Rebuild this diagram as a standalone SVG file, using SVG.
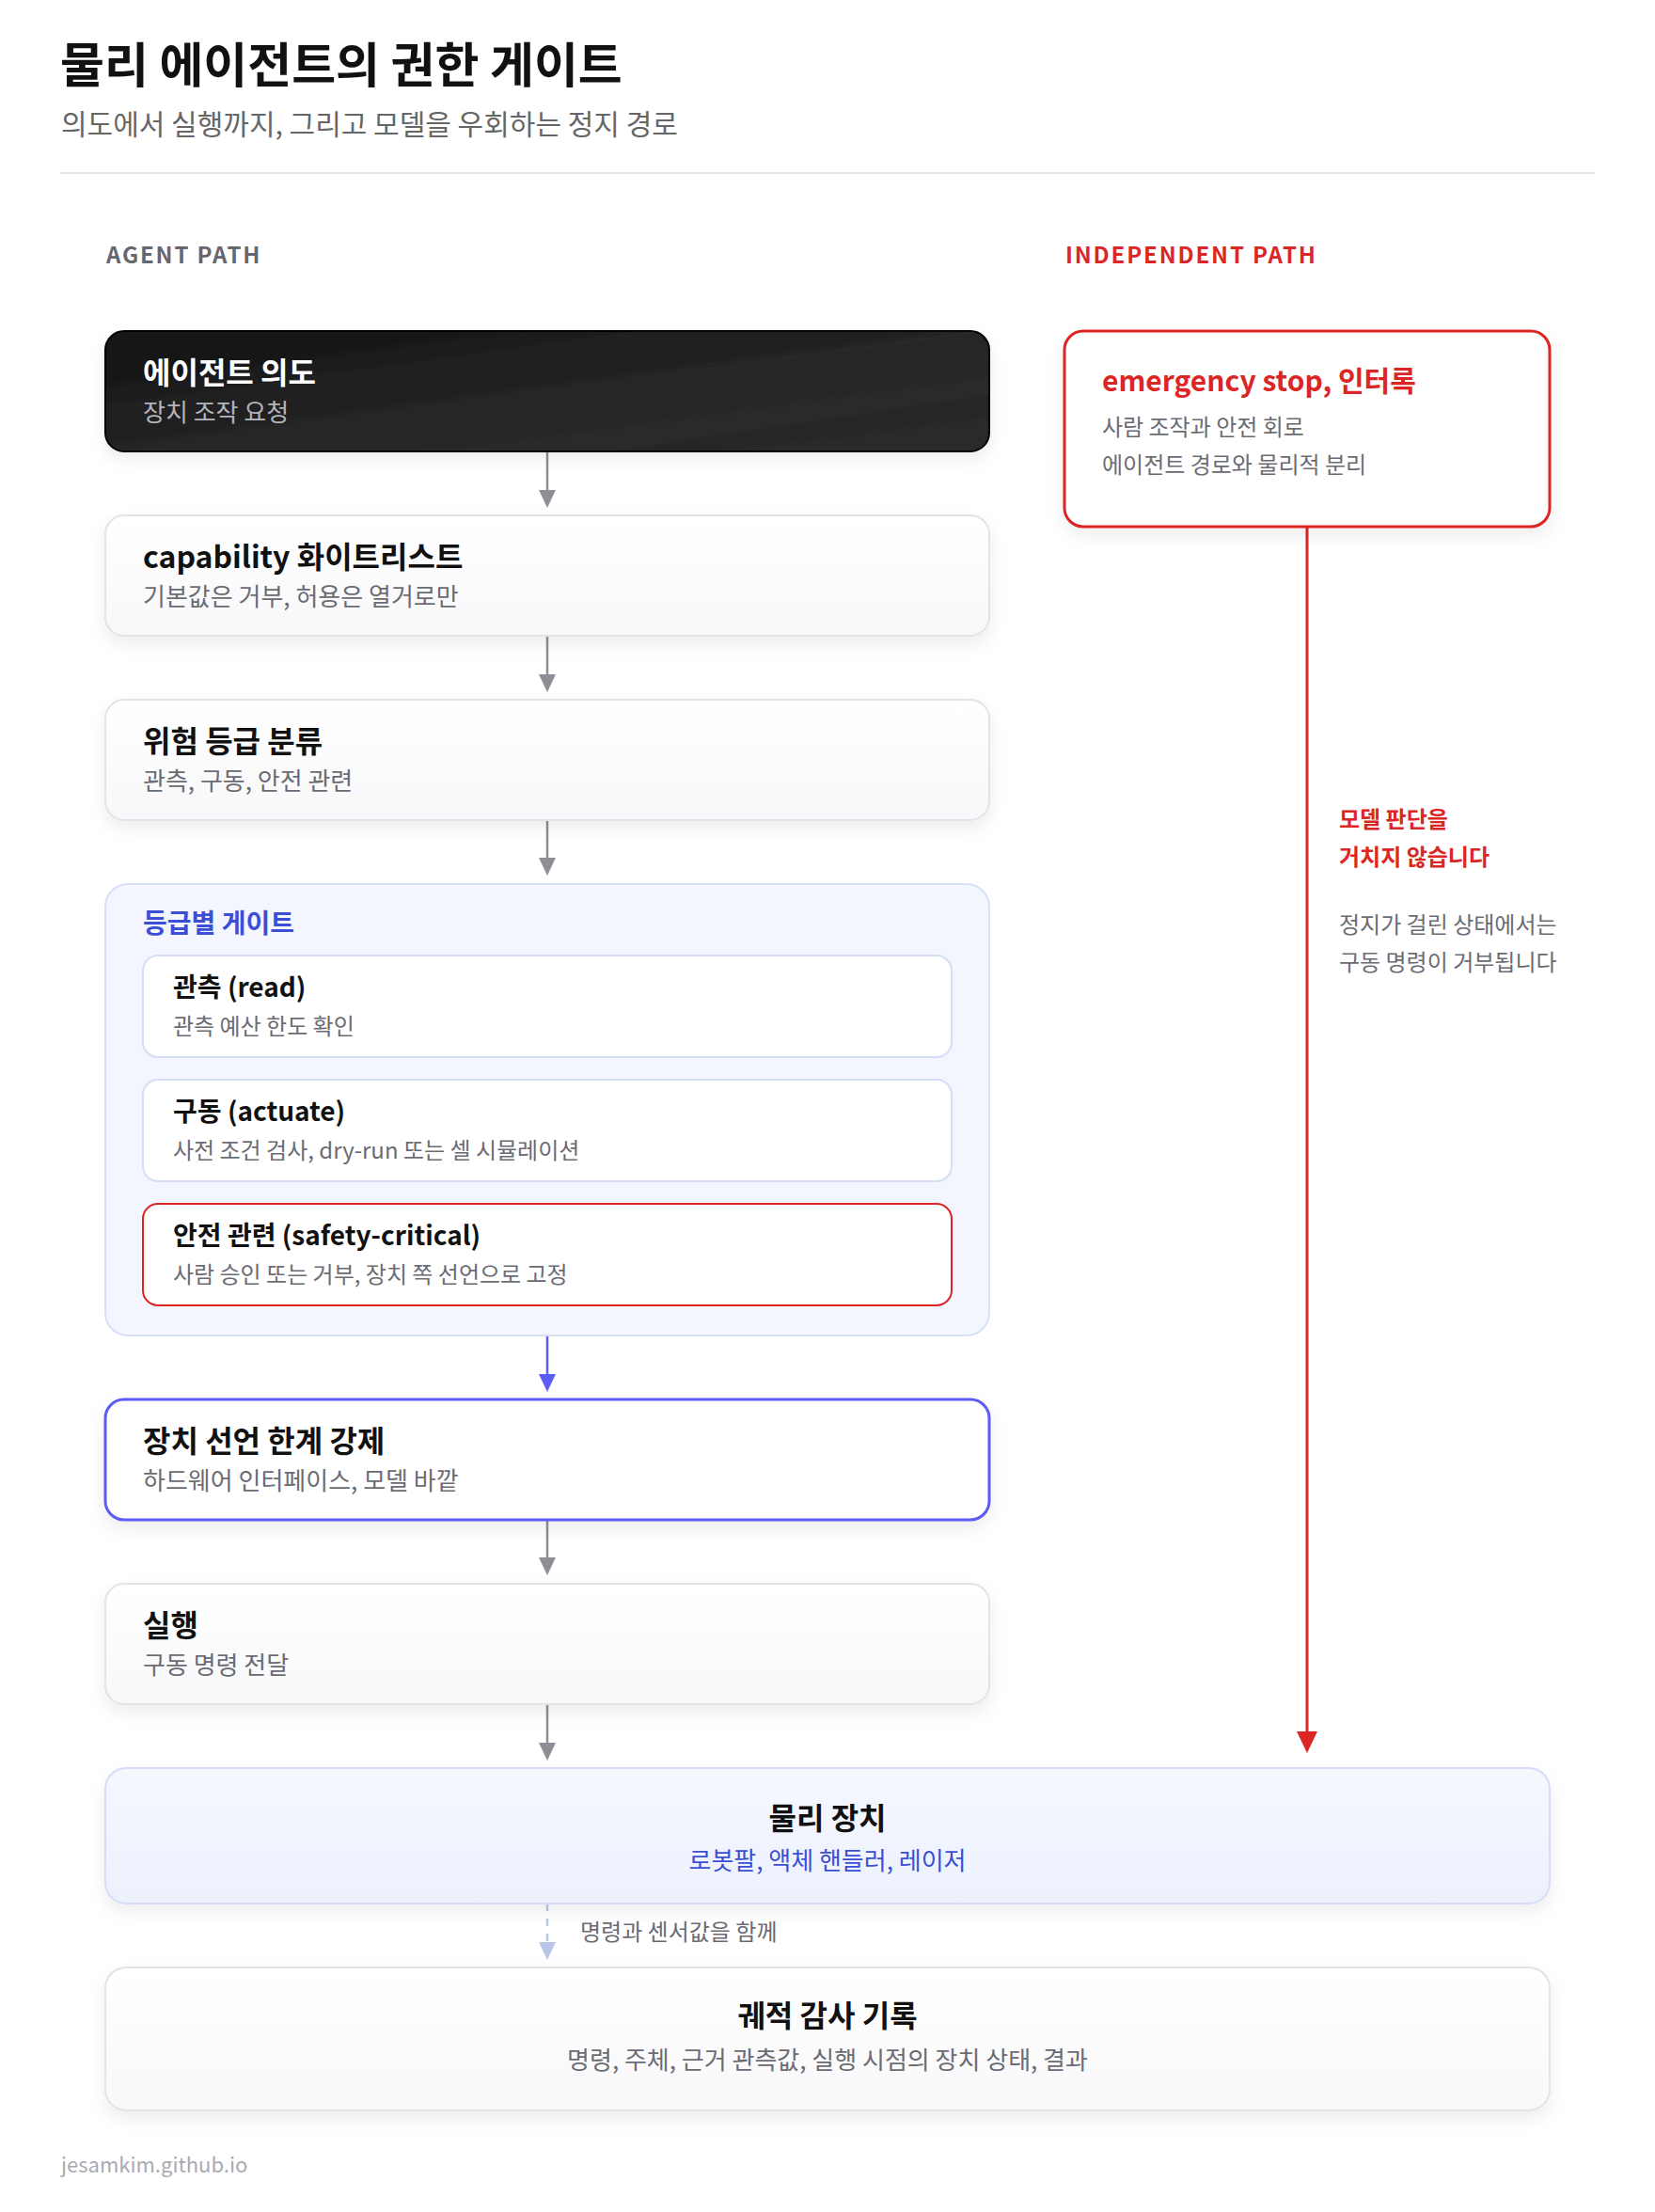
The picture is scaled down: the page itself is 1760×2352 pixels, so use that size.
<svg xmlns="http://www.w3.org/2000/svg" width="1760" height="2352" viewBox="0 0 1760 2352">
<defs>
<style>
text{font-family:"Noto Sans CJK KR","Noto Sans",sans-serif}
.h1{font-size:51px;font-weight:700;fill:#111}
.sub{font-size:30px;fill:#666}
.sec{font-size:24px;font-weight:700;letter-spacing:1.85px}
.nt{font-size:32px;font-weight:700;fill:#111}
.ns{font-size:26px;fill:#6b6b73}
.ct{font-size:28px;font-weight:700;fill:#111}
.cs{font-size:24px;fill:#6b6b73}
.card{fill:url(#lg);stroke:#e3e3e8;stroke-width:2}
.icard{fill:#fff;stroke:#d6ddf6;stroke-width:2}
.conn{fill:none;stroke:#8e8e96;stroke-width:2.5}
</style>
<linearGradient id="lg" x1="0" y1="0" x2="0" y2="1"><stop offset="0" stop-color="#ffffff"/><stop offset="1" stop-color="#f8f8fa"/></linearGradient>
<linearGradient id="dk" x1="0" y1="0" x2="1" y2="1"><stop offset="0" stop-color="#141414"/><stop offset="1" stop-color="#2c2c2c"/></linearGradient>
<linearGradient id="bl" x1="0" y1="0" x2="0" y2="1"><stop offset="0" stop-color="#f5f8ff"/><stop offset="1" stop-color="#edf1fd"/></linearGradient>
<filter id="sh" x="-5%" y="-20%" width="110%" height="150%"><feDropShadow dx="0" dy="8" stdDeviation="9" flood-color="#000" flood-opacity="0.07"/></filter>
<clipPath id="dclip"><rect x="112" y="352" width="940" height="128" rx="20"/></clipPath>
</defs>
<rect width="1760" height="2352" fill="#fff"/>

<g id="header">
<text class="h1" x="64" y="88">물리 에이전트의 권한 게이트</text>
<text class="sub" x="65" y="143">의도에서 실행까지, 그리고 모델을 우회하는 정지 경로</text>
<line x1="64" y1="184" x2="1696" y2="184" stroke="#e6e6e6" stroke-width="2"/>
<text class="sec" x="113" y="280" fill="#66666e">AGENT PATH</text>
<text class="sec" x="1133" y="280" fill="#dc2626">INDEPENDENT PATH</text>
</g>

<g id="connectors">
<line class="conn" x1="582" y1="480" x2="582" y2="522"/>
<path d="M573,521 L591,521 L582,540 Z" fill="#8e8e96"/>
<line class="conn" x1="582" y1="676" x2="582" y2="718"/>
<path d="M573,717 L591,717 L582,736 Z" fill="#8e8e96"/>
<line class="conn" x1="582" y1="872" x2="582" y2="913"/>
<path d="M573,912 L591,912 L582,931 Z" fill="#8e8e96"/>
<line x1="582" y1="1420" x2="582" y2="1462" stroke="#5b5bf5" stroke-width="2.5"/>
<path d="M573,1461 L591,1461 L582,1480 Z" fill="#5b5bf5"/>
<line class="conn" x1="582" y1="1616" x2="582" y2="1657"/>
<path d="M573,1656 L591,1656 L582,1675 Z" fill="#8e8e96"/>
<line class="conn" x1="582" y1="1812" x2="582" y2="1854"/>
<path d="M573,1853 L591,1853 L582,1872 Z" fill="#8e8e96"/>
<line x1="582" y1="2024" x2="582" y2="2066" stroke="#b9c5ea" stroke-width="2.5" stroke-dasharray="8 8"/>
<path d="M573,2065 L591,2065 L582,2084 Z" fill="#b9c5ea"/>
<line x1="1390" y1="560" x2="1390" y2="1843" stroke="#dc2626" stroke-width="3"/>
<path d="M1379,1841 L1401,1841 L1390,1864 Z" fill="#dc2626"/>
<text x="617" y="2063" font-size="24" fill="#6b6b73">명령과 센서값을 함께</text>
</g>

<g id="n-intent">
<rect x="112" y="352" width="940" height="128" rx="20" fill="url(#dk)" stroke="#000" stroke-width="2" filter="url(#sh)"/>
<g clip-path="url(#dclip)" fill="#fff">
<polygon points="112,430 1052,300 1052,352 112,480" opacity="0.02"/>
<polygon points="112,480 1052,350 1052,420 112,560" opacity="0.02"/>
</g>
<text class="nt" x="152" y="408" style="fill:#fff">에이전트 의도</text>
<text class="ns" x="152" y="448" style="fill:#b4b4bc">장치 조작 요청</text>
</g>

<g id="n-whitelist">
<rect class="card" x="112" y="548" width="940" height="128" rx="20" filter="url(#sh)"/>
<text class="nt" x="152" y="604">capability 화이트리스트</text>
<text class="ns" x="152" y="644">기본값은 거부, 허용은 열거로만</text>
</g>

<g id="n-classify">
<rect class="card" x="112" y="744" width="940" height="128" rx="20" filter="url(#sh)"/>
<text class="nt" x="152" y="800">위험 등급 분류</text>
<text class="ns" x="152" y="840">관측, 구동, 안전 관련</text>
</g>

<g id="n-gates">
<rect x="112" y="940" width="940" height="480" rx="24" fill="#f3f6fe" stroke="#d8e0f8" stroke-width="2"/>
<text x="152" y="992" font-size="28" font-weight="700" fill="#3b4fd6">등급별 게이트</text>
<g id="n-read">
<rect class="icard" x="152" y="1016" width="860" height="108" rx="16"/>
<text class="ct" x="184" y="1060">관측 (read)</text>
<text class="cs" x="184" y="1100">관측 예산 한도 확인</text>
</g>
<g id="n-actuate">
<rect class="icard" x="152" y="1148" width="860" height="108" rx="16"/>
<text class="ct" x="184" y="1192">구동 (actuate)</text>
<text class="cs" x="184" y="1232">사전 조건 검사, dry-run 또는 셀 시뮬레이션</text>
</g>
<g id="n-safety">
<rect x="152" y="1280" width="860" height="108" rx="16" fill="#fff" stroke="#dc2626" stroke-width="2"/>
<text class="ct" x="184" y="1324">안전 관련 (safety-critical)</text>
<text class="cs" x="184" y="1364">사람 승인 또는 거부, 장치 쪽 선언으로 고정</text>
</g>
</g>

<g id="n-enforce">
<rect x="112" y="1488" width="940" height="128" rx="20" fill="#fff" stroke="#5b5bf5" stroke-width="3" filter="url(#sh)"/>
<text class="nt" x="152" y="1544">장치 선언 한계 강제</text>
<text class="ns" x="152" y="1584">하드웨어 인터페이스, 모델 바깥</text>
</g>

<g id="n-exec">
<rect class="card" x="112" y="1684" width="940" height="128" rx="20" filter="url(#sh)"/>
<text class="nt" x="152" y="1740">실행</text>
<text class="ns" x="152" y="1780">구동 명령 전달</text>
</g>

<g id="n-device">
<rect x="112" y="1880" width="1536" height="144" rx="22" fill="url(#bl)" stroke="#d5def6" stroke-width="2" filter="url(#sh)"/>
<text class="nt" x="880" y="1945" text-anchor="middle">물리 장치</text>
<text x="880" y="1988" font-size="26" fill="#3b4fd6" text-anchor="middle">로봇팔, 액체 핸들러, 레이저</text>
</g>

<g id="n-audit">
<rect class="card" x="112" y="2092" width="1536" height="152" rx="22" filter="url(#sh)"/>
<text class="nt" x="880" y="2155" text-anchor="middle">궤적 감사 기록</text>
<text class="ns" x="880" y="2200" text-anchor="middle">명령, 주체, 근거 관측값, 실행 시점의 장치 상태, 결과</text>
</g>

<g id="n-estop">
<rect x="1132" y="352" width="516" height="208" rx="20" fill="#fff" stroke="#dc2626" stroke-width="3" filter="url(#sh)"/>
<text x="1172" y="416" font-size="30" font-weight="700" fill="#dc2626">emergency stop, 인터록</text>
<text class="cs" x="1172" y="463">사람 조작과 안전 회로</text>
<text class="cs" x="1172" y="503">에이전트 경로와 물리적 분리</text>
</g>

<g id="side-note">
<text x="1424" y="880" font-size="24" font-weight="700" fill="#dc2626">모델 판단을</text>
<text x="1424" y="920" font-size="24" font-weight="700" fill="#dc2626">거치지 않습니다</text>
<text class="cs" x="1424" y="992">정지가 걸린 상태에서는</text>
<text class="cs" x="1424" y="1032">구동 명령이 거부됩니다</text>
</g>

<g id="footer">
<text x="65" y="2310" font-size="22" fill="#aaaab2">jesamkim.github.io</text>
</g>
</svg>
